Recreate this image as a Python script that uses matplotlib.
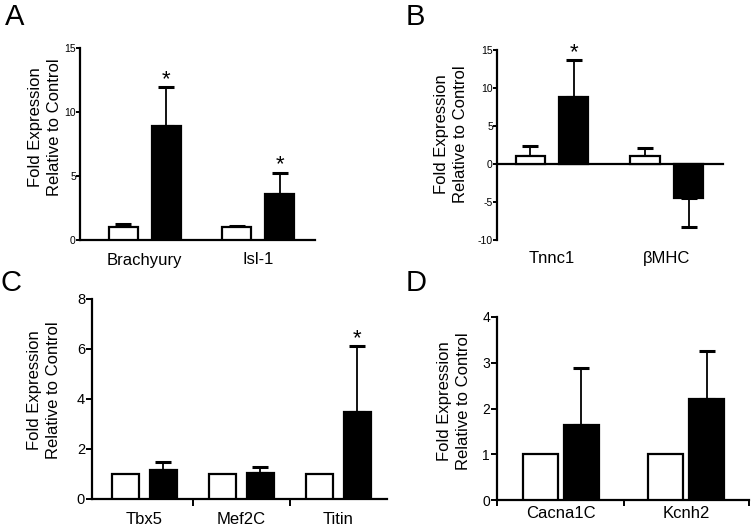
import numpy as np
import matplotlib

matplotlib.use("Agg")
import matplotlib.pyplot as plt

plt.rcParams["font.family"] = ["Liberation Sans", "DejaVu Sans"]
plt.rcParams["axes.unicode_minus"] = False

W, H = 755, 532

# panel A
a_genes = ["Brachyury", "Isl-1"]
a_ctrl = [1.0, 1.0]
a_ctrl_err = [0.25, 0.1]
a_trt = [8.9, 3.62]
a_trt_err = [3.05, 1.65]
a_sig = [True, True]

# panel B
b_genes = ["Tnnc1", "βMHC"]
b_ctrl = [1.0, 1.0]
b_ctrl_err = [1.35, 1.15]
b_trt = [8.8, -4.5]
b_trt_err = [4.85, 3.8]
b_sig = [True, False]

# panel C
c_genes = ["Tbx5", "Mef2C", "Titin"]
c_ctrl = [1.0, 1.0, 1.0]
c_ctrl_err = [0.0, 0.0, 0.0]
c_trt = [1.16, 1.03, 3.49]
c_trt_err = [0.31, 0.26, 2.63]
c_sig = [False, False, True]

# panel D
d_genes = ["Cacna1C", "Kcnh2"]
d_ctrl = [1.0, 1.0]
d_ctrl_err = [0.0, 0.0]
d_trt = [1.64, 2.21]
d_trt_err = [1.24, 1.05]
d_sig = [False, False]


def place(fig, x0, x1, ytop, ybot):
    """axes from pixel box of the plotting area"""
    return fig.add_axes([x0 / W, 1 - ybot / H, (x1 - x0) / W, (ybot - ytop) / H])


def bars(ax, ctrl, ctrl_err, trt, trt_err, sig, width, off):
    x = np.arange(len(ctrl))
    ax.bar(x + off, ctrl, width, color="white", edgecolor="black", lw=1.6, zorder=3)
    ax.bar(x - off, trt, width, color="black", edgecolor="black", lw=1.6, zorder=3)
    for xi, v, e in zip(x + off, ctrl, ctrl_err):
        if e > 0:
            ax.errorbar(xi, v, yerr=[[0], [e]], fmt="none", ecolor="black",
                        elinewidth=1.3, capsize=5.5, capthick=2.2, zorder=2)
    for xi, v, e, s in zip(x - off, trt, trt_err, sig):
        yerr = [[0], [e]] if v >= 0 else [[e], [0]]
        ax.errorbar(xi, v, yerr=yerr, fmt="none", ecolor="black",
                    elinewidth=1.3, capsize=5.5, capthick=2.2, zorder=2)
        if s:
            ax.annotate("*", (xi, v + e), xytext=(0, -2), textcoords="offset points",
                        ha="center", va="bottom", fontsize=16)


def style(ax, tick_size, tick_len=4, pad=1):
    for s in ("top", "right"):
        ax.spines[s].set_visible(False)
    for s in ("left", "bottom"):
        ax.spines[s].set_linewidth(1.6)
    ax.tick_params(axis="y", direction="out", length=tick_len, width=1.4,
                   labelsize=tick_size, pad=pad)
    ax.tick_params(axis="x", which="both", length=0)


def ylabel(fig, x, y, size=12):
    fig.text(x / W, 1 - y / H, "Fold Expression\nRelative to Control", rotation=90,
             ha="center", va="center", fontsize=size, linespacing=1.3)


fig = plt.figure(figsize=(W / 100, H / 100), dpi=100)

# A
ax = place(fig, 80, 315, 48, 240)
bars(ax, a_ctrl, a_ctrl_err, a_trt, a_trt_err, a_sig, 0.255, -0.19)
ax.set_xlim(-0.57, 1.5)
ax.set_ylim(0, 15)
ax.set_yticks([0, 5, 10, 15])
style(ax, 7.5, tick_len=3, pad=0)
ax.set_xticks(np.arange(len(a_genes)), a_genes, fontsize=12)
ax.tick_params(axis="x", pad=9)
ylabel(fig, 45, 127)
fig.text(5 / W, 1 - 17 / H, "A", fontsize=21, va="center")

# B
ax = place(fig, 497, 723, 50, 240)
bars(ax, b_ctrl, b_ctrl_err, b_trt, b_trt_err, b_sig, 0.253, -0.19)
ax.set_xlim(-0.48, 1.49)
ax.set_ylim(-10, 15)
ax.set_yticks([-10, -5, 0, 5, 10, 15])
style(ax, 7.5, tick_len=3, pad=0)
ax.spines["bottom"].set_position(("data", 0))
ax.set_xticks([])
for i, g in enumerate(b_genes):
    ax.text(i, -0.095, g, transform=ax.get_xaxis_transform(), ha="center",
            va="center", fontsize=12)
ylabel(fig, 451, 134)
fig.text(406 / W, 1 - 17 / H, "B", fontsize=21, va="center")

# C
ax = place(fig, 92, 387, 299, 499)
bars(ax, c_ctrl, c_ctrl_err, c_trt, c_trt_err, c_sig, 0.272, -0.195)
ax.set_xlim(-0.54, 2.5)
ax.set_ylim(0, 8)
ax.set_yticks([0, 2, 4, 6, 8])
style(ax, 10.5)
ax.set_xticks([0.5, 1.5])
ax.set_xticklabels([])
ax.tick_params(axis="x", which="major", length=5, width=1.4)
ax.set_xticks(np.arange(len(c_genes)), c_genes, minor=True, fontsize=12)
ax.tick_params(axis="x", which="minor", pad=9)
ylabel(fig, 44, 390)
fig.text(1 / W, 1 - 283 / H, "C", fontsize=21, va="center")

# D
ax = place(fig, 497, 749, 317, 500)
bars(ax, d_ctrl, d_ctrl_err, d_trt, d_trt_err, d_sig, 0.28, -0.163)
ax.set_xlim(-0.51, 1.5)
ax.set_ylim(0, 4)
ax.set_yticks([0, 1, 2, 3, 4])
style(ax, 10)
ax.set_xticks([-0.51, 0.5, 1.5])
ax.set_xticklabels([])
ax.tick_params(axis="x", which="major", length=4, width=1.4)
ax.set_xticks(np.arange(len(d_genes)), d_genes, minor=True, fontsize=12)
ax.tick_params(axis="x", which="minor", pad=4)
ylabel(fig, 454, 401)
fig.text(406 / W, 1 - 283 / H, "D", fontsize=21, va="center")

fig.savefig("out.png", dpi=100)
